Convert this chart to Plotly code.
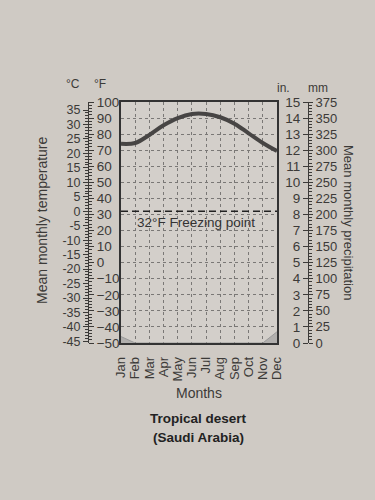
import plotly.graph_objects as go

months = ["Jan", "Feb", "Mar", "Apr", "May", "Jun", "Jul", "Aug", "Sep", "Oct", "Nov", "Dec"]
temp_f = [74, 74.5, 79.5, 85.5, 90, 92.5, 92.5, 90.5, 86.5, 80.5, 74.5, 69.5]
precip_in = [0.4, 0, 0, 0, 0, 0, 0, 0, 0, 0, 0, 0.7]
f_ticks = list(range(-50, 101, 10))
c_ticks = list(range(-45, 36, 5))
in_ticks = list(range(0, 16))
mm_ticks = list(range(0, 376, 25))
freezing_f = 32

W, H = 375, 500
PX0, PX1 = 121, 277
PY0, PY1 = 102, 343


def px(x):
    return x / W


def py(y):
    return 1 - y / H


FONT = "Liberation Sans, Arial, sans-serif"
NARROW = "Liberation Sans Narrow, Arial Narrow, Liberation Sans, sans-serif"
INK = "#3c3a38"
BG = "#cfcac4"

xs = list(range(len(months)))

fig = go.Figure()
fig.add_trace(go.Scatter(
    x=xs, y=precip_in, yaxis="y4", mode="lines",
    line=dict(color="#9a9a9a", width=1), fill="tozeroy",
    fillcolor="rgba(150,150,150,0.55)", hoverinfo="skip", showlegend=False))
fig.add_trace(go.Scatter(
    x=xs, y=temp_f, mode="lines", line=dict(color="#474544", width=4, shape="spline", smoothing=1.0),
    showlegend=False))
# invisible helpers so the overlaid scale axes are drawn
for ax in ["y2", "y3", "y5"]:
    fig.add_trace(go.Scatter(x=[None], y=[None], yaxis=ax, mode="lines", showlegend=False, hoverinfo="skip"))

common_free = dict(overlaying="y", anchor="free", range=[-50, 100], showgrid=False, zeroline=False,
                   showline=True, linecolor=INK, linewidth=1, ticks="outside", ticklen=5,
                   tickcolor=INK, tickfont=dict(family=NARROW, size=13.5, color=INK), automargin=False)

fig.update_layout(
    width=W, height=H, autosize=False,
    margin=dict(l=0, r=0, t=0, b=0),
    paper_bgcolor=BG, plot_bgcolor="#d3cfca",
    xaxis=dict(domain=[px(PX0), px(PX1)], range=[0, 11], tickvals=xs, ticktext=months,
               tickangle=-90, tickfont=dict(family=FONT, size=13, color=INK),
               ticks="outside", ticklen=7, tickcolor="rgba(0,0,0,0)",
               showgrid=True, gridcolor="#7a7876", griddash="dot", gridwidth=1,
               showline=True, mirror=True, linecolor="#333", linewidth=1.5,
               zeroline=False, automargin=False),
    yaxis=dict(domain=[py(PY1), py(PY0)], range=[-50, 100], tickvals=f_ticks, showticklabels=False,
               showgrid=True, gridcolor="#7a7876", griddash="dot", gridwidth=1,
               showline=True, mirror=True, linecolor="#333", linewidth=1.5,
               zeroline=False, automargin=False),
    yaxis2=dict(common_free, position=px(88), side="right", tickvals=f_ticks,
                minor=dict(dtick=2, ticklen=3, ticks="outside", tickcolor=INK)),
    yaxis3=dict(common_free, position=px(88), side="left",
                tickvals=[c * 9 / 5 + 32 for c in c_ticks], ticktext=[str(c) for c in c_ticks],
                tickfont=dict(family=NARROW, size=12.5, color=INK),
                minor=dict(tickvals=[c * 9 / 5 + 32 for c in range(-45, 36)], ticklen=3,
                           ticks="outside", tickcolor=INK)),
    yaxis4=dict(common_free, range=[0, 15], position=px(308), side="left", tickvals=in_ticks),
    yaxis5=dict(common_free, range=[0, 375], position=px(308), side="right", tickvals=mm_ticks,
                ticklen=4, tickfont=dict(family=NARROW, size=13, color=INK),
                minor=dict(dtick=5, ticklen=3, ticks="outside", tickcolor=INK)),
)

fig.add_shape(type="line", xref="x", yref="y", x0=0, x1=11, y0=freezing_f, y1=freezing_f,
              line=dict(color="#222", width=1.5, dash="7px,4px"))


def ann(text, x, y, size=12, angle=0, bold=False, color=INK):
    fig.add_annotation(text=f"<b>{text}</b>" if bold else text, x=px(x), y=py(y), xref="paper", yref="paper",
                       showarrow=False, textangle=angle, xanchor="center", yanchor="middle",
                       font=dict(family=FONT, size=size, color=color))


fig.add_annotation(text=f"{freezing_f}°F Freezing point", x=5.3, y=25, xref="x", yref="y", showarrow=False,
                   font=dict(family=FONT, size=13.5, color="#333"))
ann("°C", 73, 84, 12)
ann("°F", 100, 84, 12)
ann("in.", 283, 88, 12)
ann("mm", 318, 88, 12)
ann("Mean monthly temperature", 42, 220, 14, angle=-90)
ann("Mean monthly precipitation", 348, 222, 13, angle=90)
ann("Months", 199, 393, 14)
ann("Tropical desert", 199, 418, 13.5, bold=True, color="#222")
ann("(Saudi Arabia)", 199, 437, 13.5, bold=True, color="#222")

fig.write_html("out.html", config={"displayModeBar": False},
               post_script="document.body.style.margin='0';document.body.style.background='%s';" % BG)
